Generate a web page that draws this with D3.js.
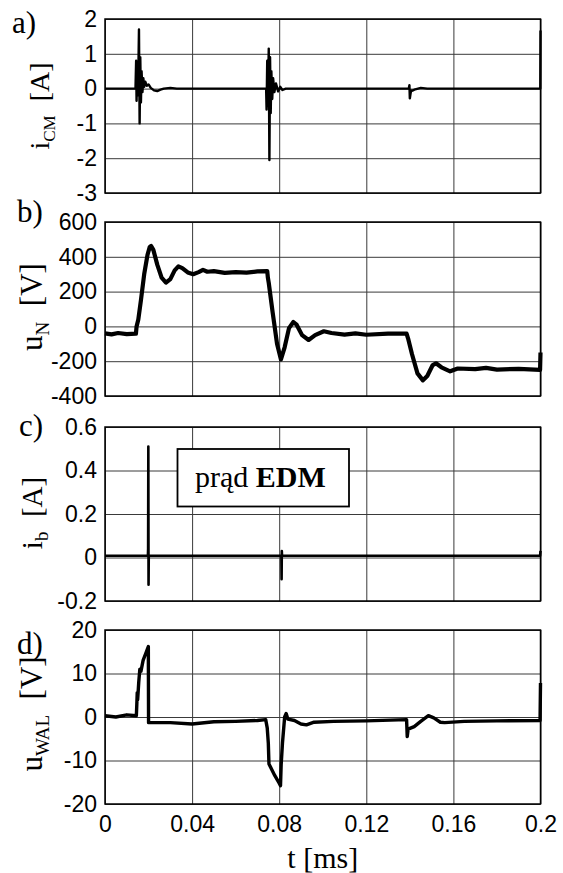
<!DOCTYPE html>
<html>
<head>
<meta charset="utf-8">
<script src="https://cdn.jsdelivr.net/npm/d3@7"></script>
<style>
  body { margin: 0; background: #fff; }
  svg { display: block; }
</style>
</head>
<body>
<svg id="chart" width="563" height="873"></svg>
<script>
// ---- tick values ----
const timeTicks = [0, 0.04, 0.08, 0.12, 0.16, 0.2];
const iCmTicks  = [2, 1, 0, -1, -2, -3];
const uNTicks   = [600, 400, 200, 0, -200, -400];
const iBTicks   = [0.6, 0.4, 0.2, 0, -0.2];
const uWalTicks = [20, 10, 0, -10, -20];

// ---- measured traces: [t (ms), value] ----
// a) common-mode current i_CM [A]
const iCmTrace = [
  [0, 0], [0.0140, 0], [0.0143, 0.8], [0.0145, -0.35], [0.0147, 0.6], [0.0150, -0.2],
  [0.0153, 0.4], [0.0156, 1.7], [0.0159, -1.0], [0.0162, 0.9], [0.0165, -0.4],
  [0.0168, 0.5], [0.0172, -0.1], [0.0176, 0.3], [0.0180, 0.05], [0.0185, 0.2],
  [0.0192, 0.08], [0.0200, 0.12], [0.0210, 0.02], [0.0225, -0.05], [0.0240, -0.07],
  [0.0255, -0.03], [0.0270, 0], [0.0300, 0.02], [0.0330, 0], [0.0740, 0],
  [0.0742, -0.6], [0.0745, 0.8], [0.0748, -0.5], [0.0752, 1.15], [0.0755, -2.05],
  [0.0758, 0.9], [0.0761, -0.7], [0.0764, 0.5], [0.0768, -0.3], [0.0772, 0.3],
  [0.0778, -0.1], [0.0785, 0.15], [0.0795, -0.08], [0.0805, 0.05], [0.0815, -0.04],
  [0.0830, 0], [0.1395, 0], [0.1398, 0.1], [0.1400, -0.28], [0.1403, -0.15],
  [0.1406, -0.05], [0.1412, -0.06], [0.1425, -0.02], [0.1450, 0.02], [0.1480, 0],
  [0.1999, 0], [0.2, 1.67]
];

// b) neutral-point voltage u_N [V]
const uNTrace = [
  [0, -40], [0.003, -46], [0.006, -38], [0.010, -44], [0.0142, -42], [0.0145, 0], [0.0153, 40],
  [0.0165, 150], [0.0180, 300], [0.0195, 410], [0.0205, 455], [0.0212, 462],
  [0.0222, 440], [0.0240, 355], [0.0260, 280], [0.0280, 252], [0.0300, 272],
  [0.0320, 322], [0.0337, 345], [0.0355, 335], [0.0380, 310], [0.0405, 300],
  [0.0430, 312], [0.0450, 325], [0.0470, 314], [0.0500, 318], [0.0550, 308],
  [0.0600, 312], [0.0650, 309], [0.0700, 316], [0.0745, 318], [0.0748, 280],
  [0.0752, 250], [0.0770, 80], [0.0790, -100], [0.0808, -190], [0.0825, -120],
  [0.0845, -10], [0.0865, 25], [0.0880, 10], [0.0905, -50], [0.0935, -78],
  [0.0965, -50], [0.1005, -28], [0.1040, -38], [0.1100, -47], [0.1150, -40],
  [0.1200, -48], [0.1300, -42], [0.1385, -42], [0.1392, -70], [0.1410, -160],
  [0.1435, -270], [0.1460, -310], [0.1480, -285], [0.1505, -222], [0.1520, -212],
  [0.1545, -235], [0.1585, -258], [0.1620, -242], [0.1700, -246], [0.1750, -238],
  [0.1800, -248], [0.1900, -244], [0.1998, -250], [0.2, -150]
];

// c) EDM current i_b [A]
const iBTrace = [
  [0, 0.008], [0.0197, 0.008], [0.0198, 0.04], [0.0199, 0.51], [0.0200, -0.125],
  [0.0201, 0.01], [0.0203, 0.008], [0.0810, 0.008], [0.0811, -0.1], [0.0812, 0.03],
  [0.0813, 0.008], [0.1998, 0.008], [0.2, 0.03]
];

// d) shaft voltage u_WAL [V]
const uWalTrace = [
  [0, 0.3], [0.005, 0.0], [0.010, 0.5], [0.0144, 0.3], [0.0146, 2.8], [0.0148, 5.6],
  [0.0150, 4.0], [0.0155, 8], [0.0160, 11], [0.0165, 10.5], [0.0175, 13], [0.0190, 15],
  [0.0199, 16.2], [0.0200, -1.3], [0.0300, -1.3], [0.0400, -1.6], [0.0500, -1.1],
  [0.0600, -1.0], [0.0700, -0.8], [0.0738, -0.6], [0.0745, -2.5], [0.0750, -6],
  [0.0753, -10.8], [0.0760, -11.5], [0.0780, -13.5], [0.0800, -15.2], [0.0806, -15.8],
  [0.0809, -11], [0.0815, -6], [0.0825, 0], [0.0832, 0.8], [0.0840, -0.5],
  [0.0870, -0.8], [0.0900, -1.6], [0.0925, -1.8], [0.0960, -1.2], [0.1050, -1.0],
  [0.1200, -0.9], [0.1385, -0.6], [0.1388, -4.5], [0.1392, -2.8], [0.1420, -2.2],
  [0.1450, -1.0], [0.1485, 0.3], [0.1510, -0.2], [0.1540, -1.2], [0.1560, -1.3],
  [0.1650, -1.0], [0.1800, -0.9], [0.1998, -0.8], [0.2, 7.8]
];

// ---- layout ----
const svg = d3.select("#chart");
const left = 105, right = 540.5, plotH = 174;
const W = right - left;
const sansFont = "'Liberation Sans', Arial, sans-serif";
const serifFont = "'Liberation Serif', 'Times New Roman', serif";

const x = d3.scaleLinear().domain([0, 0.2]).range([left, right]);

const panels = [
  { tag: "a)", tagX: 12, tagY: 33, top: 19, ticks: iCmTicks, trace: iCmTrace, lw: 2.4,
    sym: "i", sub: "CM", unit: "[A]", fs: 28, subFs: 17, lx: 49, ly: 106 },
  { tag: "b)", tagX: 17, tagY: 222, top: 222, ticks: uNTicks, trace: uNTrace, lw: 4.2,
    sym: "u", sub: "N", unit: "[V]", fs: 31, subFs: 19, lx: 42, ly: 307 },
  { tag: "c)", tagX: 19, tagY: 436, top: 427, ticks: iBTicks, trace: iBTrace, lw: 2.6,
    sym: "i", sub: "b", unit: "[A]", fs: 29, subFs: 19, lx: 42, ly: 513 },
  { tag: "d)", tagX: 17, tagY: 654, top: 630, ticks: uWalTicks, trace: uWalTrace, lw: 3.4,
    sym: "u", sub: "WAL", unit: "[V]", fs: 31, subFs: 19, lx: 42, ly: 714 }
];

panels.forEach((p, i) => {
  const ext = d3.extent(p.ticks);
  const y = d3.scaleLinear().domain(ext).range([p.top + plotH, p.top]);
  const g = svg.append("g");

  // horizontal grid + y tick labels
  const yAxis = g.append("g")
    .attr("transform", `translate(${left},0)`)
    .call(d3.axisLeft(y).tickValues(p.ticks).tickSize(-W).tickPadding(8)
      .tickFormat(d => String(d)));
  yAxis.select(".domain").remove();
  yAxis.selectAll(".tick line").attr("stroke", "#3a3a3a").attr("stroke-width", 1);
  yAxis.selectAll(".tick text")
    .attr("font-family", sansFont).attr("font-size", 23).attr("fill", "#000");

  // vertical grid (+ time labels on the bottom panel)
  const last = i === panels.length - 1;
  const xAxis = g.append("g")
    .attr("transform", `translate(0,${p.top + plotH})`)
    .call(d3.axisBottom(x).tickValues(timeTicks).tickSize(-plotH).tickPadding(12)
      .tickFormat(d => last ? String(d) : ""));
  xAxis.select(".domain").remove();
  xAxis.selectAll(".tick line").attr("stroke", "#3a3a3a").attr("stroke-width", 1);
  xAxis.selectAll(".tick text")
    .attr("font-family", sansFont).attr("font-size", 23).attr("fill", "#000");

  // frame
  g.append("rect")
    .attr("x", left).attr("y", p.top).attr("width", W).attr("height", plotH)
    .attr("fill", "none").attr("stroke", "#000").attr("stroke-width", 1.5);

  // trace
  const line = d3.line().x(d => x(d[0])).y(d => y(d[1]));
  g.append("path")
    .datum(p.trace)
    .attr("d", line)
    .attr("fill", "none")
    .attr("stroke", "#000")
    .attr("stroke-width", p.lw)
    .attr("stroke-linejoin", "round");

  // panel tag
  svg.append("text")
    .attr("x", p.tagX).attr("y", p.tagY)
    .attr("font-family", serifFont).attr("font-size", 31)
    .text(p.tag);

  // rotated quantity label with subscript
  const lab = svg.append("text")
    .attr("transform", `translate(${p.lx},${p.ly}) rotate(-90)`)
    .attr("text-anchor", "middle")
    .attr("font-family", serifFont).attr("font-size", p.fs)
    .attr("xml:space", "preserve");
  lab.append("tspan").text(p.sym);
  lab.append("tspan").attr("font-size", p.subFs).attr("dy", p.fs * 0.22).text(p.sub);
  lab.append("tspan").attr("dy", -p.fs * 0.22).text("  " + p.unit);

  // annotation box in panel c
  if (p.tag === "c)") {
    svg.append("rect")
      .attr("x", 177.5).attr("y", 449).attr("width", 171.5).attr("height", 57.5)
      .attr("fill", "#fff").attr("stroke", "#000").attr("stroke-width", 1.8);
    const t = svg.append("text")
      .attr("x", 195).attr("y", 487)
      .attr("font-family", serifFont).attr("font-size", 30)
      .attr("xml:space", "preserve");
    t.append("tspan").text("prąd ");
    t.append("tspan").attr("font-weight", "bold").text("EDM");
  }
});

// time axis title
svg.append("text")
  .attr("x", (left + right) / 2).attr("y", 868)
  .attr("text-anchor", "middle")
  .attr("font-family", serifFont).attr("font-size", 30)
  .attr("xml:space", "preserve")
  .text("t [ms]");
</script>
</body>
</html>
